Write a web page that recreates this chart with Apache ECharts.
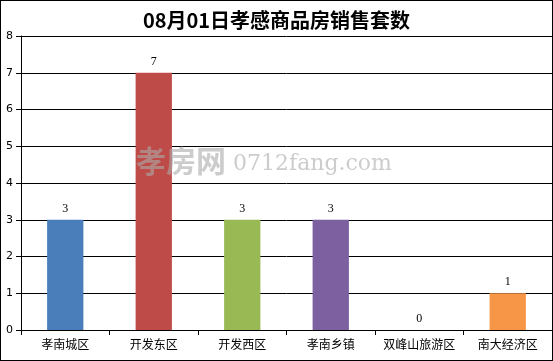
<!DOCTYPE html>
<html><head><meta charset="utf-8">
<script src="https://cdn.jsdelivr.net/npm/echarts@6/dist/echarts.min.js"></script>
<style>html,body{margin:0;padding:0;background:#fff}#c{width:553px;height:361px;box-sizing:border-box;border:1px solid #000}</style>
</head><body><div id="c"></div>
<script>
const title = '08月01日孝感商品房销售套数';
const categories = ['孝南城区','开发东区','开发西区','孝南乡镇','双峰山旅游区','南大经济区'];
const values = [3,7,3,3,0,1];
const colors = ['#4a7ebb','#be4b48','#98b954','#7d60a0','#4a7ebb','#f79646'];
const yTicks = [0,1,2,3,4,5,6,7,8];

const chart = echarts.init(document.getElementById('c'), null, {renderer:'canvas'});
chart.setOption({
  animation:false,
  title:{text:title,left:'center',top:4,textStyle:{fontFamily:'Noto Sans CJK SC',fontSize:20,fontWeight:'bold',color:'#000'}},
  graphic:[{type:'text',left:135,top:145,z:100,style:{text:'孝房网',fontSize:30,fontFamily:'Noto Sans CJK SC',fontWeight:'bold',fill:'rgba(170,170,170,0.6)'}},
           {type:'text',left:232,top:152,z:100,style:{text:'0712fang.com',fontSize:22,fontFamily:'DejaVu Serif',fill:'rgba(170,170,170,0.6)'}}],
  grid:{left:20,right:0,top:35,bottom:30,containLabel:false},
  xAxis:{type:'category',data:categories,
    axisLine:{lineStyle:{color:'#000',width:1}},
    axisTick:{show:true,length:5,lineStyle:{color:'#000'}},
    axisLabel:{color:'#000',fontSize:12,fontFamily:'Noto Sans CJK SC',margin:8,interval:0}},
  yAxis:{type:'value',min:yTicks[0],max:yTicks[yTicks.length-1],interval:1,
    axisLine:{show:true,lineStyle:{color:'#000'}},
    axisTick:{show:true,length:5,lineStyle:{color:'#000'}},
    axisLabel:{color:'#000',fontSize:11,fontFamily:'DejaVu Sans',margin:8},
    splitLine:{lineStyle:{color:'#000',width:1}}},
  series:[{type:'bar',barWidth:'41%',
    data:values.map((v,i)=>({value:v,itemStyle:{color:colors[i]}})),
    label:{show:true,position:'top',color:'#000',fontSize:12,fontFamily:'Liberation Serif',distance:5}}]
});
</script></body></html>
